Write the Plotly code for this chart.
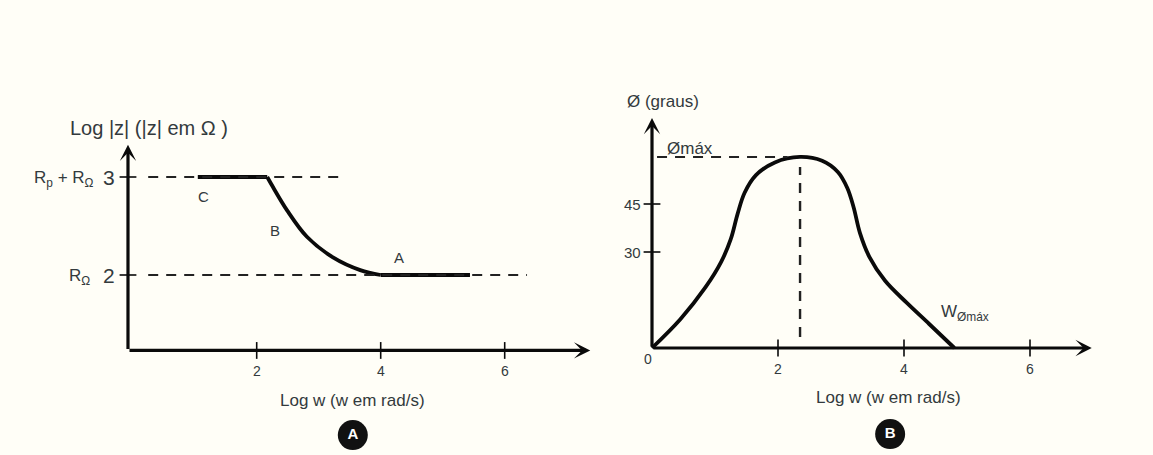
import plotly.graph_objects as go

W, H = 1153, 455
FONT = "Liberation Sans, Arial, sans-serif"
TXT = "#333a3d"
BG = "#fffef7"

# ---------------- Panel A: Log|z| vs Log w ----------------
a_flat_hi_x = [1.05, 2.17]
a_flat_hi_y = [3.0, 3.0]
a_bend_x = [2.17, 2.26, 2.49, 2.81, 3.23, 3.67, 4.0]
a_bend_y = [3.0, 2.9, 2.66, 2.39, 2.18, 2.05, 2.0]
a_flat_lo_x = [4.0, 5.44]
a_flat_lo_y = [2.0, 2.0]
a_ref_levels = [3.0, 2.0]
a_ref_x_start = [0.25, 0.25]
a_ref_x_end = [3.42, 6.36]
a_xticks = [2, 4, 6]
a_xtick_labels = ["2", "4", "6"]
a_yticks = [3, 2]
a_ytick_labels = ["3", "2"]
a_ytick_names = ["R<sub>p</sub> + R<sub>Ω</sub>", "R<sub>Ω</sub>"]
a_region_labels = ["C", "B", "A"]
a_region_x = [1.14, 2.3, 4.3]
a_region_y = [2.8, 2.45, 2.18]
a_origin = (-0.076, 1.23)
a_x_tip = 7.38
a_y_tip = 3.33

# ---------------- Panel B: phase vs Log w ----------------
b_curve_x = [0.0, 0.45, 0.85, 1.1, 1.25, 1.36, 1.47, 1.65, 1.95, 2.35,
             2.7, 2.95, 3.1, 3.2, 3.3, 3.45, 3.7, 4.05, 4.4, 4.8]
b_curve_y = [0.0, 9.0, 19.0, 27.0, 34.0, 42.0, 48.5, 54.0, 58.0, 59.7,
             58.5, 55.0, 50.0, 44.0, 36.0, 28.5, 21.0, 14.0, 7.5, 0.0]
b_peak_x = 2.35
b_peak_y = 59.7
b_xticks = [2, 4, 6]
b_xtick_labels = ["2", "4", "6"]
b_yticks = [45, 30]
b_ytick_labels = ["45", "30"]
b_origin = (0.0, 0.0)
b_x_tip = 6.98
b_y_tip = 71.9

# ---------------- pixel mapping helpers (styling) ----------------
def xr(px0, ppu):
    return [(0 - px0) / ppu, (W - px0) / ppu]

def yr(py_ref, val_ref, ppu):
    return [val_ref + (py_ref - H) / ppu, val_ref + py_ref / ppu]

fig = go.Figure()

BLACK = "#0a0a0a"
CW = 3.8

# Panel A traces
fig.add_trace(go.Scatter(x=a_flat_hi_x, y=a_flat_hi_y, mode="lines",
                         line=dict(color=BLACK, width=CW), xaxis="x", yaxis="y"))
fig.add_trace(go.Scatter(x=a_bend_x, y=a_bend_y, mode="lines",
                         line=dict(color=BLACK, width=CW, shape="spline", smoothing=1),
                         xaxis="x", yaxis="y"))
fig.add_trace(go.Scatter(x=a_flat_lo_x, y=a_flat_lo_y, mode="lines",
                         line=dict(color=BLACK, width=CW), xaxis="x", yaxis="y"))
for lv, xs, xe in zip(a_ref_levels, a_ref_x_start, a_ref_x_end):
    fig.add_trace(go.Scatter(x=[xs, xe], y=[lv, lv], mode="lines",
                             line=dict(color="#222", width=2, dash="10px,8px"),
                             xaxis="x", yaxis="y"))
fig.add_trace(go.Scatter(x=a_xticks, y=[a_origin[1]] * len(a_xticks), mode="markers",
                         marker=dict(symbol="line-ns", size=12, line=dict(color=BLACK, width=1.6)),
                         xaxis="x", yaxis="y"))
fig.add_trace(go.Scatter(x=[a_origin[0]] * len(a_yticks), y=a_yticks, mode="markers",
                         marker=dict(symbol="line-ew", size=12, line=dict(color=BLACK, width=1.6)),
                         xaxis="x", yaxis="y"))
fig.add_trace(go.Scatter(x=[3.55], y=[0.367], mode="markers+text", text=["<b>A</b>"],
                         textposition="middle center",
                         textfont=dict(color="white", size=15, family="Liberation Sans, Arial"),
                         marker=dict(size=30, color="#111"), xaxis="x", yaxis="y"))

# Panel B traces
fig.add_trace(go.Scatter(x=b_curve_x, y=b_curve_y, mode="lines",
                         line=dict(color=BLACK, width=CW, shape="spline", smoothing=1.0),
                         xaxis="x2", yaxis="y2"))
fig.add_trace(go.Scatter(x=[0.08, 2.15], y=[b_peak_y, b_peak_y], mode="lines",
                         line=dict(color="#222", width=2, dash="10px,8px"),
                         xaxis="x2", yaxis="y2"))
fig.add_trace(go.Scatter(x=[b_peak_x, b_peak_x], y=[3.4, 56.6], mode="lines",
                         line=dict(color="#222", width=2.4, dash="10px,8px"),
                         xaxis="x2", yaxis="y2"))
fig.add_trace(go.Scatter(x=b_xticks, y=[b_origin[1]] * len(b_xticks), mode="markers",
                         marker=dict(symbol="line-ns", size=12, line=dict(color=BLACK, width=1.6)),
                         xaxis="x2", yaxis="y2"))
fig.add_trace(go.Scatter(x=[b_origin[0]] * len(b_yticks), y=b_yticks, mode="markers",
                         marker=dict(symbol="line-ew", size=12, line=dict(color=BLACK, width=1.6)),
                         xaxis="x2", yaxis="y2"))
fig.add_trace(go.Scatter(x=[3.78], y=[-26.9], mode="markers+text", text=["<b>B</b>"],
                         textposition="middle center",
                         textfont=dict(color="white", size=15, family="Liberation Sans, Arial"),
                         marker=dict(size=30, color="#111"), xaxis="x2", yaxis="y2"))

ann = []

def arrow(xref, yref, x0, y0, x1, y1):
    ann.append(dict(x=x1, y=y1, ax=x0, ay=y0, xref=xref, yref=yref, axref=xref, ayref=yref,
                    showarrow=True, arrowhead=3, arrowsize=0.85, arrowwidth=3.2,
                    arrowcolor=BLACK, text=""))

def label(xref, yref, x, y, text, size=14, xanchor="center", yanchor="middle",
          xshift=0, yshift=0, color=TXT):
    ann.append(dict(x=x, y=y, xref=xref, yref=yref, text=text, showarrow=False,
                    xanchor=xanchor, yanchor=yanchor, xshift=xshift, yshift=yshift,
                    font=dict(family=FONT, size=size, color=color)))

# Panel A axes
arrow("x", "y", a_origin[0], a_origin[1], a_x_tip, a_origin[1])
arrow("x", "y", a_origin[0], a_origin[1], a_origin[0], a_y_tip)
for v, t in zip(a_xticks, a_xtick_labels):
    label("x", "y", v, a_origin[1], t, size=14, yanchor="top", yshift=-11)
for v, t in zip(a_yticks, a_ytick_labels):
    label("x", "y", a_origin[0], v, t, size=21, xanchor="right", xshift=-11)
for v, n, xs in zip(a_yticks, a_ytick_names, [-32, -36]):
    label("x", "y", a_origin[0], v, n, size=17, xanchor="right", xshift=xs, yshift=-2)
for t, x, y in zip(a_region_labels, a_region_x, a_region_y):
    label("x", "y", x, y, t, size=15)
label("x", "y", a_origin[0], a_y_tip, "Log |z| (|z| em Ω )", size=20,
      yanchor="bottom", yshift=4, xshift=21)
label("x", "y", 3.54, 0.724, "Log w (w em rad/s)", size=17)

# Panel B axes
arrow("x2", "y2", b_origin[0], b_origin[1], b_x_tip, b_origin[1])
arrow("x2", "y2", b_origin[0], b_origin[1], b_origin[0], b_y_tip)
for v, t in zip(b_xticks, b_xtick_labels):
    label("x2", "y2", v, b_origin[1], t, size=14, yanchor="top", yshift=-11)
for v, t in zip(b_yticks, b_ytick_labels):
    label("x2", "y2", b_origin[0], v, t, size=15, xanchor="right", xshift=-9)
label("x2", "y2", b_origin[0], b_origin[1], "0", size=14, xanchor="right", yanchor="top",
      xshift=2, yshift=-1)
label("x2", "y2", b_origin[0], b_y_tip, "Ø (graus)", size=17, yanchor="bottom",
      yshift=5, xshift=11)
label("x2", "y2", 0.6, 62.5, "Ømáx", size=17)
label("x2", "y2", 4.97, 10.9, "W<sub>Ømáx</sub>", size=17)
label("x2", "y2", 3.75, -15.6, "Log w (w em rad/s)", size=17)

ax_common = dict(visible=False, domain=[0, 1], fixedrange=True)
fig.update_layout(
    width=W, height=H,
    margin=dict(l=0, r=0, t=0, b=0),
    paper_bgcolor=BG, plot_bgcolor="rgba(0,0,0,0)",
    showlegend=False, hovermode=False,
    xaxis=dict(range=xr(132.7, 62), **ax_common),
    yaxis=dict(range=yr(177, 3, 98), **ax_common),
    xaxis2=dict(range=xr(652, 63), anchor="y2", **ax_common),
    yaxis2=dict(range=yr(348, 0, 3.2), anchor="x2", **ax_common),
    annotations=ann,
)

fig.write_html("out.html", config={"displayModeBar": False, "staticPlot": True},
               post_script="document.body.style.margin='0';document.body.style.background='%s';" % BG)
